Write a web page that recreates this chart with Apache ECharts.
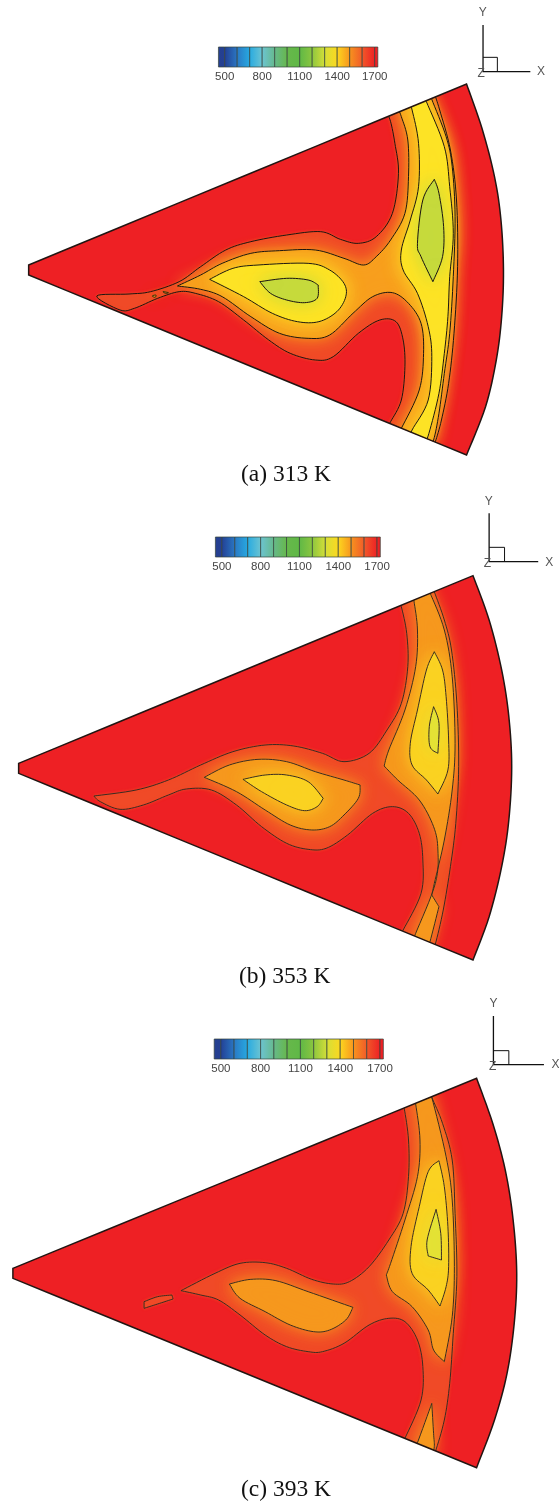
<!DOCTYPE html>
<html><head><meta charset="utf-8">
<style>html,body{margin:0;padding:0;background:#fff}#c{width:559px;height:1503px}</style>
<script src="https://cdn.jsdelivr.net/npm/echarts@6/dist/echarts.min.js"></script>
</head><body><div id="c"></div>
<script>
// colour bar
const barLevels=[450,500,600,700,800,900,1000,1100,1200,1300,1400,1500,1600,1700,1725];
const barColors=['#26408f','#233f94','#2a78c4','#27aae1','#6cc4d2','#66b98c','#67b84b','#5fb846','#8cc63f','#d5df38','#fdd81f','#f7941e','#f15a29','#ee2024','#ee2024'];
const tickLabels=[500,800,1100,1400,1700];
const captions=['(a) 313 K','(b) 353 K','(c) 393 K'];
const coloursA={1600:'#f04a27',1500:'#f89f1e',1400:'#fde326',1300:'#c6da3c'};
const coloursB={1600:'#f04a27',1500:'#f6981e',1400:'#fad222',1300:'#e4e235'};

// panel a – temperature contours, in panel units
const sectorA=[[80,795],[80,795],[1302,252],[1302,252],[1345,385],[1380,530],[1398,660],[1405,810],[1400,950],[1385,1080],[1355,1220],[1302,1365],[1302,1365],[80,825],[80,825]];
const a1600=[[1078,335],[1078,335],[1090,365],[1102,430],[1112,520],[1095,640],[1050,710],[1000,730],[950,718],[895,695],[800,705],[700,725],[630,750],[560,800],[500,845],[420,875],[360,882],[270,888],[335,930],[375,925],[440,895],[500,875],[545,880],[610,905],[680,960],[750,1020],[810,1060],[880,1080],[930,1070],[1000,1000],[1060,960],[1105,965],[1125,1020],[1130,1100],[1120,1200],[1090,1265],[1078,1285],[1078,1285],[1205,1350],[1205,1350],[1215,1325],[1232,1260],[1252,1150],[1267,1000],[1277,800],[1274,600],[1257,450],[1227,330],[1212,280],[1212,280]];
const a1500=[[1108,320],[1108,320],[1120,350],[1138,420],[1140,530],[1130,640],[1090,720],[1050,770],[1015,795],[960,775],[880,750],[780,752],[700,760],[620,790],[560,825],[495,858],[495,858],[560,868],[620,890],[700,950],[780,1000],[860,1015],[920,1005],[985,940],[1040,890],[1095,878],[1140,910],[1175,970],[1182,1060],[1170,1170],[1120,1285],[1105,1310],[1105,1310],[1195,1345],[1195,1345],[1210,1320],[1225,1240],[1240,1120],[1255,1000],[1265,830],[1270,650],[1262,500],[1245,410],[1205,298],[1198,275],[1198,275]];
const a1400r=[[1140,300],[1140,300],[1150,330],[1168,430],[1168,560],[1145,660],[1120,750],[1125,810],[1165,880],[1195,980],[1205,1070],[1195,1200],[1150,1290],[1140,1320],[1140,1320],[1185,1330],[1185,1330],[1197,1300],[1225,1180],[1240,1060],[1250,950],[1255,830],[1265,700],[1255,560],[1240,440],[1190,305],[1182,285],[1182,285]];
const a1400b=[[585,838],[585,838],[650,805],[720,795],[860,790],[920,810],[960,850],[965,890],[940,935],[890,965],[830,965],[760,940],[680,890]];
const a1300b=[[725,845],[725,845],[800,835],[860,840],[888,855],[888,855],[885,895],[850,908],[800,900],[755,880]];
const a1300r=[[1212,538],[1212,538],[1225,580],[1238,680],[1235,770],[1208,845],[1208,845],[1175,770],[1165,730],[1180,600]];
const aSpeck1=[[425,888],[435,885],[433,892]];
const aSpeck2=[[455,875],[470,878],[462,880]];

// panel b
const sectorB=[[52,820],[52,820],[1320,257],[1320,257],[1365,390],[1400,540],[1420,680],[1428,830],[1420,990],[1400,1130],[1365,1280],[1320,1410],[1320,1410],[52,850],[52,850]];
const b1600=[[1112,325],[1112,325],[1120,350],[1135,430],[1138,530],[1120,640],[1080,720],[1030,790],[960,815],[900,790],[820,768],[740,765],[650,785],[560,825],[470,870],[380,900],[262,918],[262,918],[280,935],[335,958],[400,945],[470,915],[520,897],[590,900],[660,945],[730,1010],[800,1060],[860,1078],[910,1075],[970,1035],[1040,970],[1095,950],[1140,970],[1170,1030],[1180,1110],[1175,1210],[1125,1320],[1112,1340],[1112,1340],[1205,1385],[1205,1385],[1215,1362],[1237,1260],[1257,1130],[1272,1000],[1280,830],[1275,640],[1260,480],[1240,390],[1212,305],[1205,285],[1205,285]];
const b1500r=[[1150,310],[1150,310],[1155,332],[1165,420],[1160,530],[1130,660],[1085,780],[1072,828],[1072,828],[1110,870],[1170,930],[1210,1010],[1222,1080],[1215,1180],[1160,1330],[1150,1355],[1150,1355],[1192,1375],[1192,1375],[1200,1355],[1225,1250],[1225,1250],[1205,1215],[1205,1215],[1212,1180],[1240,1050],[1262,900],[1270,760],[1262,560],[1240,420],[1200,308],[1190,285],[1190,285]];
const b1500b=[[570,862],[570,862],[640,825],[720,808],[800,815],[880,845],[960,870],[1005,885],[1005,885],[1000,925],[960,975],[920,1010],[870,1020],[810,1005],[740,960],[660,905]];
const b1400r=[[1212,485],[1212,485],[1235,540],[1245,620],[1252,750],[1250,840],[1222,912],[1222,912],[1190,870],[1150,825],[1145,760],[1165,660],[1190,540]];
const b1400b=[[678,868],[678,868],[740,855],[800,855],[860,875],[902,925],[902,925],[885,950],[850,962],[800,945],[730,905]];
const b1300r=[[1210,650],[1210,650],[1225,700],[1222,790],[1222,790],[1200,770],[1198,710]];

// panel c
const sectorC=[[36,805],[36,805],[1330,235],[1330,235],[1375,370],[1410,510],[1432,660],[1442,820],[1435,970],[1415,1120],[1380,1260],[1330,1403],[1330,1403],[36,835],[36,835]];
const c1600=[[1120,300],[1120,300],[1128,325],[1140,420],[1140,530],[1125,640],[1085,720],[1030,800],[975,845],[930,852],[870,838],[800,805],[740,788],[670,790],[600,820],[505,872],[505,872],[560,885],[610,900],[670,945],[740,1005],[800,1040],[860,1055],[900,1055],[960,1030],[1030,975],[1085,955],[1130,965],[1165,1020],[1180,1100],[1175,1200],[1130,1315],[1118,1335],[1118,1335],[1205,1375],[1205,1375],[1215,1355],[1240,1260],[1255,1150],[1265,1000],[1275,830],[1270,640],[1262,480],[1235,370],[1205,292],[1198,270],[1198,270]];
const c1600i=[[402,905],[402,905],[440,890],[480,885],[480,885],[483,897],[483,897],[440,912],[402,925],[402,925]];
const c1500r=[[1155,285],[1155,285],[1160,312],[1172,420],[1165,530],[1130,660],[1090,790],[1078,825],[1078,825],[1095,875],[1150,920],[1195,990],[1210,1050],[1240,1085],[1240,1085],[1262,950],[1268,800],[1262,600],[1245,470],[1205,292],[1195,270],[1195,270]];
const c1500l=[[1205,1210],[1205,1210],[1165,1328],[1155,1350],[1155,1350],[1205,1375],[1205,1375],[1212,1340],[1210,1300]];
const c1500b=[[640,852],[640,852],[700,838],[770,842],[860,875],[985,922],[985,922],[965,960],[920,990],[875,995],[810,975],[740,935],[670,895]];
const c1400r=[[1225,482],[1225,482],[1240,560],[1250,680],[1252,800],[1245,860],[1228,918],[1228,918],[1195,870],[1150,820],[1147,740],[1170,620],[1195,515]];
const c1300r=[[1217,628],[1217,628],[1230,700],[1232,780],[1232,780],[1195,768],[1195,768],[1192,720]];

// coordinate triads: Y tip, origin, X tip, box corner, label anchors
const triadA={y:[1348,75],o:[1348,215],x:[1480,215],b:[1388,172],ly:[1347,38],lx:[1510,215],lz:[1343,222]};
const triadB={y:[1365,70],o:[1365,215],x:[1502,215],b:[1408,172],ly:[1364,35],lx:[1533,217],lz:[1360,222]};
const triadC={y:[1377,48],o:[1377,194],x:[1518,194],b:[1420,152],ly:[1377,12],lx:[1550,195],lz:[1375,200]};

const panels=[
 {top:0,h:500,sector:sectorA,triad:triadA,line:'#1c1410',lw:1,colours:coloursA,
  regions:[[1600,a1600],[1500,a1500],[1400,a1400r],[1400,a1400b],[1300,a1300b],[1300,a1300r],[1500,aSpeck1],[1500,aSpeck2]],
  bar:{o:199.7,w:187.5,top:47,h:20},capY:475,capX:287},
 {top:490,h:500,sector:sectorB,triad:triadB,line:'#3a2a22',lw:1,colours:coloursB,
  regions:[[1600,b1600],[1500,b1500r],[1500,b1500b],[1400,b1400r],[1400,b1400b],[1300,b1300r]],
  bar:{o:196,w:194,top:537,h:20},capY:977,capX:285},
 {top:1000,h:503,sector:sectorC,triad:triadC,line:'#3a2a22',lw:1,colours:coloursB,
  regions:[[1600,c1600],[1600,c1600i],[1500,c1500r],[1500,c1500l],[1500,c1500b],[1400,c1400r],[1300,c1300r]],
  bar:{o:194.3,w:199,top:1039,h:20},capY:1490,capX:287}
];

// Catmull-Rom through a closed ring of pixel points; a doubled point is a corner
function spline(px){
  const n=px.length,out=[];
  const get=i=>px[(i+n)%n];
  const same=(a,b)=>a[0]===b[0]&&a[1]===b[1];
  for(let i=0;i<n;i++){
    const p0=get(i-1),p1=get(i),p2=get(i+1),p3=get(i+2);
    if(same(p1,p2)) continue;
    for(let k=0;k<8;k++){
      const t=k/8,t2=t*t,t3=t2*t;
      out.push([
        .5*(2*p1[0]+(p2[0]-p0[0])*t+(2*p0[0]-5*p1[0]+4*p2[0]-p3[0])*t2+(3*p1[0]-p0[0]-3*p2[0]+p3[0])*t3),
        .5*(2*p1[1]+(p2[1]-p0[1])*t+(2*p0[1]-5*p1[1]+4*p2[1]-p3[1])*t2+(3*p1[1]-p0[1]-3*p2[1]+p3[1])*t3)]);
    }
  }
  return out;
}
const series=[],grid=[],xAxis=[],yAxis=[],title=[];
const base={type:'custom',coordinateSystem:'cartesian2d',silent:true,animation:false,clip:false};
panels.forEach((p,pi)=>{
  const g=grid.length;
  grid.push({left:0,top:p.top,width:559,height:p.h,show:false});
  xAxis.push({type:'value',gridIndex:g,min:0,max:1560,show:false});
  yAxis.push({type:'value',gridIndex:g,min:0,max:p.h*3,inverse:true,show:false});
  const ax={xAxisIndex:g,yAxisIndex:g,encode:{x:0,y:1}};
  const sectorPx=api=>spline(p.sector.map(q=>api.coord(q)));
  const once=(name,pts,fn)=>series.push(Object.assign({},base,ax,{name,data:pts,z:2,
    renderItem:(params,api)=>params.dataIndex===0?fn(api):null}));
  once('sector'+pi,p.sector,api=>({type:'polygon',shape:{points:sectorPx(api)},style:{fill:'#ee2024'}}));
  p.regions.forEach(([lv,pts],ri)=>{
    const col=p.colours[lv];
    once('fill'+pi+'_'+ri,pts,api=>({type:'polygon',
      clipPath:{type:'polygon',shape:{points:sectorPx(api)}},
      shape:{points:spline(pts.map(q=>api.coord(q)))},
      style:{fill:col,stroke:col,lineWidth:1,shadowBlur:lv===1600?3:(lv===1500?15:18),shadowColor:col}}));
  });
  p.regions.forEach(([lv,pts],ri)=>{
    once('line'+pi+'_'+ri,pts,api=>({type:'polygon',
      clipPath:{type:'polygon',shape:{points:sectorPx(api)}},
      shape:{points:spline(pts.map(q=>api.coord(q)))},
      style:{fill:'none',stroke:p.line,lineWidth:p.lw}}));
  });
  once('border'+pi,p.sector,api=>({type:'polygon',shape:{points:sectorPx(api)},style:{fill:'none',stroke:'#221512',lineWidth:1.5}}));
  const t=p.triad;
  once('triad'+pi,[t.o,t.y,t.x,t.b],api=>{
    const c=q=>api.coord(q);
    const txt=(s,q)=>({type:'text',x:c(q)[0],y:c(q)[1],style:{text:s,fill:'#555',font:'12px "Liberation Sans"',textAlign:'center',textVerticalAlign:'middle'}});
    return {type:'group',children:[
      {type:'polyline',shape:{points:[c(t.y),c(t.o),c(t.x)]},style:{fill:'none',stroke:'#111',lineWidth:1.3}},
      {type:'polyline',shape:{points:[c([t.o[0],t.b[1]]),c(t.b),c([t.b[0],t.o[1]])]},style:{fill:'none',stroke:'#111',lineWidth:1}},
      txt('Y',t.ly),txt('X',t.lx),txt('Z',t.lz)]};
  });
  // colour bar on its own real axis
  const b=grid.length;
  grid.push({left:p.bar.o,width:p.bar.w,top:p.bar.top,height:p.bar.h,show:false});
  xAxis.push({type:'value',gridIndex:b,min:300,max:1800,interval:300,position:'bottom',
    axisLine:{show:false},axisTick:{show:false},splitLine:{show:false},
    axisLabel:{show:true,margin:4,fontFamily:'Liberation Sans',fontSize:11.5,color:'#444',
      customValues:tickLabels,formatter:v=>String(v)}});
  yAxis.push({type:'value',gridIndex:b,min:0,max:1,show:false});
  series.push(Object.assign({},base,{name:'bar'+pi,xAxisIndex:b,yAxisIndex:b,z:3,
    encode:{x:[0,1],y:2},
    data:barLevels.slice(0,-1).map((v,i)=>[v,barLevels[i+1],i]),
    renderItem:(params,api)=>{
      const i=api.value(2),s=api.coord([api.value(0),1]),e=api.coord([api.value(1),0]);
      return {type:'group',children:[
        {type:'rect',shape:{x:s[0],y:s[1],width:e[0]-s[0],height:e[1]-s[1]},
         style:{fill:new echarts.graphic.LinearGradient(0,0,1,0,[{offset:0,color:barColors[i]},{offset:1,color:barColors[i+1]}]),stroke:'#33423a',lineWidth:.7}}]};
    }}));
  title.push({text:captions[pi],left:p.capX-46,top:p.capY-13,padding:0,
    textStyle:{fontFamily:'Liberation Serif',fontSize:23.5,fontWeight:'normal',color:'#111',lineHeight:26}});
});
const chart=echarts.init(document.getElementById('c'),null,{renderer:'canvas'});
chart.setOption({animation:false,backgroundColor:'#fff',title,grid,xAxis,yAxis,series});
</script></body></html>
